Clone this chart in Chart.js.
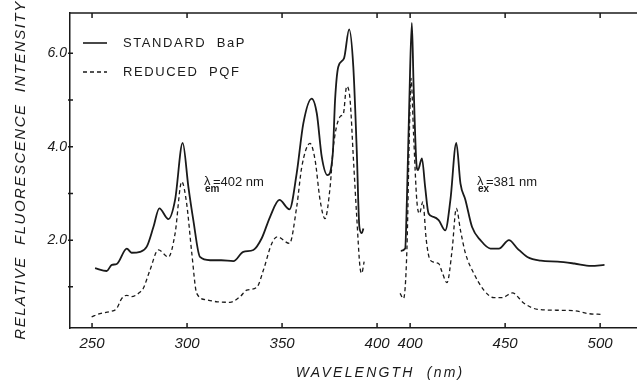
<!DOCTYPE html>
<html>
<head>
<meta charset="utf-8">
<script src="https://cdn.jsdelivr.net/npm/chart.js@4.4.1/dist/chart.umd.min.js"></script>
<style>
  html, body { margin: 0; padding: 0; background: #fff; }
  #wrap { width: 637px; height: 380px; }
</style>
</head>
<body>
<div id="wrap"><canvas id="myChart" width="637" height="380"></canvas></div>
<script>
// --- 1. Data ---
// excitation spectra (lambda em = 402 nm)
const bapExNm  = [251.6,257.7,260.4,263,268.3,270.8,275.3,278.8,282.3,285.4,290.2,293.7,297.7,300.7,303.3,306.8,312.1,318,324.4,329.6,334.9,339.3,343.7,348.6,353.9,357.7,361.2,365.6,368.3,370.9,373.9,376.7,377.9,379.6,382.6,385.3,387.5,389.3,390.7,392.0,392.8];
const bapExVal = [1.40,1.34,1.47,1.49,1.82,1.73,1.75,1.86,2.28,2.68,2.45,2.86,4.08,3.14,2.43,1.64,1.57,1.57,1.55,1.75,1.79,2.04,2.50,2.86,2.66,3.43,4.50,5.03,4.71,3.78,3.39,3.85,5.00,5.71,5.89,6.51,5.71,3.93,2.28,2.15,2.25];
const pqfExNm  = [249.8,254.2,259.5,263,265.6,268.3,270.8,275.3,277,280.5,284.9,290.2,293.7,297.2,299.8,302.5,305.1,310.4,316,322.6,327.9,331.4,336.7,340.2,344.6,347.5,353.9,357.7,360.4,364.7,367.4,370,372.6,375.3,377,380.5,382.3,384,385.8,387.5,389.3,391,391.9,393.2];
const pqfExVal = [0.36,0.43,0.47,0.54,0.75,0.82,0.79,0.89,0.97,1.36,1.79,1.64,2.14,3.25,2.78,1.72,0.86,0.72,0.68,0.67,0.79,0.93,0.99,1.36,1.93,2.07,1.93,2.71,3.57,4.07,3.71,2.86,2.46,3.14,4.00,4.64,4.71,5.29,5.00,3.78,2.50,1.43,1.29,1.54];

// emission spectra (lambda ex = 381 nm)
const bapEmNm  = [395.1,397.4,398.3,399.6,400.9,401.8,403.2,404.1,406.2,407.9,409.7,412.3,415,418.5,421.2,424.3,426.5,429.1,432.6,437,442.3,446.7,452,456.5,461.7,468.8,477.6,486.4,495.2,502.3];
const bapEmVal = [1.77,1.82,2.86,5.00,6.65,5.35,3.71,3.50,3.75,3.14,2.57,2.50,2.43,2.21,2.86,4.08,3.21,2.86,2.28,2.00,1.82,1.82,2.00,1.82,1.64,1.56,1.54,1.50,1.45,1.47];
const pqfEmNm  = [394.7,396.5,398.3,399.6,400.5,401.8,403.5,404.9,406.7,408.5,410.6,415,416.8,419.4,422.1,424.3,426.5,429.1,433.5,438.8,444.1,448.5,453.8,459.9,467,477.6,486.4,493.4,501.4];
const pqfEmVal = [0.86,0.75,1.79,4.28,5.46,4.28,2.86,2.57,2.82,2.00,1.57,1.50,1.32,1.09,1.79,2.68,2.21,1.72,1.29,0.93,0.77,0.77,0.87,0.65,0.52,0.50,0.49,0.43,0.41];

const seriesLabels = ['STANDARD  BaP', 'REDUCED  PQF'];
const exTicks = [250, 300, 350, 400];
const emTicks = [400, 450, 500];
const yTicks = [1, 2, 3, 4, 5, 6];
const yLabelled = [2, 4, 6];

// the axis is broken: emission wavelengths sit 17.4 nm further right
const EM_SHIFT = 17.4;

function toPoints(nm, val, shift) {
    return nm.map((x, i) => ({ x: x + shift, y: val[i] }));
}
function joinSpectra(exNm, exVal, emNm, emVal) {
    // null point between the two panels so the line breaks
    return toPoints(exNm, exVal, 0).concat([{ x: 394, y: null }], toPoints(emNm, emVal, EM_SHIFT));
}

const FONT = "'Liberation Sans', 'DejaVu Sans', sans-serif";
const INK = '#1a1a1a';

// --- 2. Decorations: top axis, inward ticks, titles, legend, notes ---
const decorations = {
    id: 'decorations',
    afterDraw(chart) {
        const { ctx, chartArea: a, scales } = chart;
        const xs = scales.x, ys = scales.y;
        ctx.save();
        ctx.strokeStyle = INK;
        ctx.lineWidth = 1.5;

        // top axis line
        ctx.beginPath();
        ctx.moveTo(a.left, a.top);
        ctx.lineTo(a.right, a.top);
        ctx.stroke();

        // x ticks (bottom up, top down)
        const xt = exTicks.concat(emTicks.map(v => v + EM_SHIFT));
        ctx.beginPath();
        xt.forEach(v => {
            const px = xs.getPixelForValue(v);
            ctx.moveTo(px, a.bottom); ctx.lineTo(px, a.bottom - 5);
            ctx.moveTo(px, a.top); ctx.lineTo(px, a.top + 5);
        });
        // y ticks
        yTicks.forEach(v => {
            const py = ys.getPixelForValue(v);
            ctx.moveTo(a.left - 2, py); ctx.lineTo(a.left + 3, py);
        });
        ctx.stroke();

        // axis titles
        ctx.fillStyle = INK;
        ctx.font = 'italic 14px ' + FONT;
        ctx.letterSpacing = '2.2px';
        ctx.textAlign = 'center';
        ctx.textBaseline = 'middle';
        ctx.fillText('WAVELENGTH  (nm)', 380, 373);

        ctx.save();
        ctx.translate(21, 170);
        ctx.rotate(-Math.PI / 2);
        ctx.font = 'italic 15px ' + FONT;
        ctx.letterSpacing = '1.5px';
        ctx.fillText('RELATIVE  FLUORESCENCE  INTENSITY', 0, 0);
        ctx.restore();

        // legend
        ctx.font = '13px ' + FONT;
        ctx.letterSpacing = '1.6px';
        ctx.textAlign = 'left';
        chart.data.datasets.forEach((ds, i) => {
            const y = a.top + 30 + i * 29;
            ctx.setLineDash(ds.borderDash || []);
            ctx.lineWidth = 1.6;
            ctx.beginPath();
            ctx.moveTo(a.left + 13, y);
            ctx.lineTo(a.left + 37, y);
            ctx.stroke();
            ctx.setLineDash([]);
            ctx.fillText(ds.label, a.left + 53, y);
        });

        // excitation / emission notes
        ctx.letterSpacing = '0px';
        const notes = [
            { x: 308.9, y: 3.24, sub: 'em', text: '=402 nm' },
            { x: 452.6, y: 3.24, sub: 'ex', text: '=381 nm' }
        ];
        notes.forEach(n => {
            const px = xs.getPixelForValue(n.x);
            const py = ys.getPixelForValue(n.y);
            ctx.font = '13px ' + FONT;
            ctx.fillText('\u03bb', px, py - 1);
            ctx.font = 'bold 10px ' + FONT;
            ctx.fillText(n.sub, px + 1, py + 7);
            ctx.font = '13px ' + FONT;
            ctx.fillText(n.text, px + 9, py);
        });
        ctx.restore();
    }
};

// --- 3. Chart ---
const ctx = document.getElementById('myChart').getContext('2d');
const chart = new Chart(ctx, {
    type: 'line',
    data: {
        datasets: [
            {
                label: seriesLabels[0],
                data: joinSpectra(bapExNm, bapExVal, bapEmNm, bapEmVal),
                borderColor: INK,
                borderWidth: 1.8,
                pointRadius: 0,
                cubicInterpolationMode: 'monotone',
                spanGaps: false
            },
            {
                label: seriesLabels[1],
                data: joinSpectra(pqfExNm, pqfExVal, pqfEmNm, pqfEmVal),
                borderColor: INK,
                borderWidth: 1.3,
                borderDash: [4, 3],
                pointRadius: 0,
                cubicInterpolationMode: 'monotone',
                spanGaps: false
            }
        ]
    },
    options: {
        responsive: false,
        animation: false,
        layout: { padding: { top: 13, right: 0, bottom: 0, left: 0 } },
        plugins: { legend: { display: false }, tooltip: { enabled: false } },
        scales: {
            x: {
                type: 'linear',
                min: 238.4,
                max: 536.8,
                grid: { display: false, drawTicks: false },
                border: { display: true, color: INK, width: 1.5 },
                afterFit: s => { s.height = 52; },
                afterBuildTicks: s => {
                    s.ticks = exTicks.concat(emTicks.map(v => v + EM_SHIFT)).map(v => ({ value: v }));
                },
                ticks: {
                    autoSkip: false,
                    maxRotation: 0,
                    padding: 7,
                    color: INK,
                    font: { family: FONT, size: 15, style: 'italic' },
                    callback: v => (v > 405 ? Math.round(v - EM_SHIFT) : v)
                }
            },
            y: {
                min: 0.12,
                max: 6.86,
                grid: { display: false, drawTicks: false },
                border: { display: true, color: INK, width: 1.5 },
                afterFit: s => { s.width = 70; },
                afterBuildTicks: s => { s.ticks = yTicks.map(v => ({ value: v })); },
                ticks: {
                    padding: 3,
                    color: INK,
                    font: { family: FONT, size: 14, style: 'italic' },
                    callback: v => (yLabelled.includes(v) ? v.toFixed(1) : '')
                }
            }
        }
    },
    plugins: [decorations]
});
</script>
</body>
</html>
